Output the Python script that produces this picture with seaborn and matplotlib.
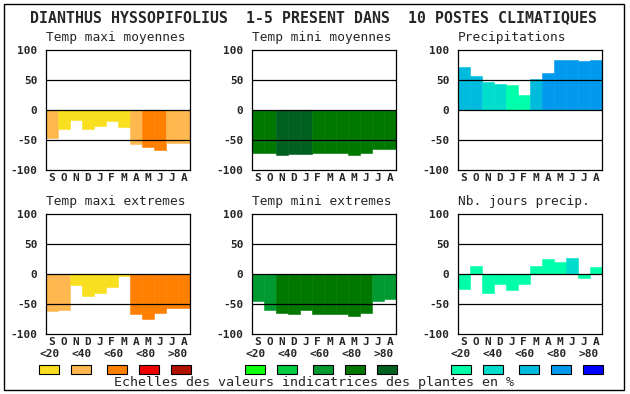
import matplotlib
matplotlib.use('Agg')
import matplotlib.pyplot as plt
from matplotlib.patches import Rectangle
import seaborn as sns

# Months (September -> August) and class labels
months = ['S', 'O', 'N', 'D', 'J', 'F', 'M', 'A', 'M', 'J', 'J', 'A']
class_labels = ['<20', '<40', '<60', '<80', '>80']

# Colour scales (warm = temperature maxi, green = temperature mini, blue = precipitation)
warm_colors = ['#f8e020', '#ffb850', '#ff8000', '#ee0000', '#b01000']
green_colors = ['#10ff10', '#00cc40', '#009a30', '#007800', '#006020']
blue_colors = ['#00ffaa', '#00ddcc', '#00bbdd', '#0099ee', '#0000ff']

# Panel values and their colour class (0..4)
tmax_moy = [-47, -31, -16, -32, -26, -18, -28, -57, -61, -66, -54, -55]
tmax_moy_cls = [1, 0, 0, 0, 0, 0, 0, 1, 2, 2, 1, 1]

tmin_moy = [-71, -72, -74, -73, -73, -72, -72, -72, -74, -72, -65, -65]
tmin_moy_cls = [3, 3, 4, 4, 4, 3, 3, 3, 3, 3, 3, 3]

precip = [71, 57, 46, 44, 41, 26, 52, 61, 84, 84, 81, 84]
precip_cls = [2, 2, 1, 1, 0, 0, 2, 3, 3, 3, 3, 3]

tmax_ext = [-62, -60, -18, -36, -32, -22, -3, -67, -74, -64, -57, -57]
tmax_ext_cls = [1, 1, 0, 0, 0, 0, 0, 2, 2, 2, 2, 2]

tmin_ext = [-44, -60, -64, -66, -60, -66, -66, -67, -70, -64, -44, -41]
tmin_ext_cls = [2, 2, 3, 3, 3, 3, 3, 3, 3, 3, 2, 2]

nb_jours = [-24, 14, -32, -17, -27, -17, 14, 26, 21, 27, -6, 12]
nb_jours_cls = [0, 0, 0, 0, 0, 0, 0, 0, 0, 1, 0, 0]

sns.set_theme(style='white')
plt.rcParams['font.family'] = ['DejaVu Sans Mono']

W, H = 630, 394
fig = plt.figure(figsize=(W / 100, H / 100), dpi=100)
fig.patch.set_facecolor('white')

col_left = [45.7, 251.7, 457.7]
row_top = [50, 214]
ax_w, ax_h = 144, 120.3

panels = [
    ('Temp maxi moyennes', tmax_moy, tmax_moy_cls, warm_colors),
    ('Temp mini moyennes', tmin_moy, tmin_moy_cls, green_colors),
    ('Precipitations', precip, precip_cls, blue_colors),
    ('Temp maxi extremes', tmax_ext, tmax_ext_cls, warm_colors),
    ('Temp mini extremes', tmin_ext, tmin_ext_cls, green_colors),
    ('Nb. jours precip.', nb_jours, nb_jours_cls, blue_colors),
]

pos = [str(i) for i in range(12)]
for k, (title, vals, cls, scale) in enumerate(panels):
    r, c = divmod(k, 3)
    left = col_left[c]
    top = row_top[r]
    ax = fig.add_axes([left / W, 1 - (top + ax_h) / H, ax_w / W, ax_h / H])
    cols = [scale[i] for i in cls]
    sns.barplot(x=pos, y=vals, hue=pos, palette=cols, legend=False,
                width=1, saturation=1, errorbar=None, linewidth=0, ax=ax)
    for p in ax.patches:
        p.set_edgecolor(p.get_facecolor())
        p.set_linewidth(0.4)
    for yv in [50, 0, -50]:
        ax.axhline(yv, color='black', lw=0.9, zorder=5)
    ax.set_xlim(-0.5, 11.5)
    ax.set_ylim(-100, 100)
    ax.set_yticks([100, 50, 0, -50, -100])
    ax.set_yticklabels(['100', '50', '0', '-50', '-100'],
                       fontsize=8, fontweight='bold')
    ax.set_xticks(range(12))
    ax.set_xticklabels(months, fontsize=8, fontweight='bold')
    ax.tick_params(axis='y', length=0, pad=6)
    ax.tick_params(axis='x', length=0, pad=2)
    ax.set_xlabel('')
    ax.set_ylabel('')
    for s in ax.spines.values():
        s.set_color('black')
        s.set_linewidth(0.9)
    fig.text(left / W, 1 - (top - 12) / H, title, fontsize=9.3,
             ha='left', va='center')

# Main title
fig.text(313 / W, 1 - 17.5 / H,
         'DIANTHUS HYSSOPIFOLIUS  1-5 PRESENT DANS  10 POSTES CLIMATIQUES',
         fontsize=10.75, fontweight='bold', ha='center', va='center')

# Colour scale legend under each column
group_x = [49.3, 255.3, 461]
label_off = [0, 32, 64, 96, 128]
box_off = [0, 32, 68, 100, 132]
for g, scale in zip(group_x, [warm_colors, green_colors, blue_colors]):
    for j in range(5):
        fig.text((g + label_off[j]) / W, 1 - 354 / H, class_labels[j],
                 fontsize=8, fontweight='bold', ha='center', va='center')
        bx = g + box_off[j] - 10
        fig.patches.append(Rectangle((bx / W, 1 - 373.5 / H), 20 / W, 9 / H,
                                     transform=fig.transFigure,
                                     facecolor=scale[j], edgecolor='black',
                                     lw=0.8))

fig.text(314 / W, 1 - 382.5 / H,
         'Echelles des valeurs indicatrices des plantes en %',
         fontsize=9.6, ha='center', va='center')

# Outer frame
fig.patches.append(Rectangle((4 / W, 1 - 390 / H), 620 / W, 386 / H,
                             transform=fig.transFigure, fill=False,
                             edgecolor='black', lw=1))

fig.savefig('out.png', dpi=100)
